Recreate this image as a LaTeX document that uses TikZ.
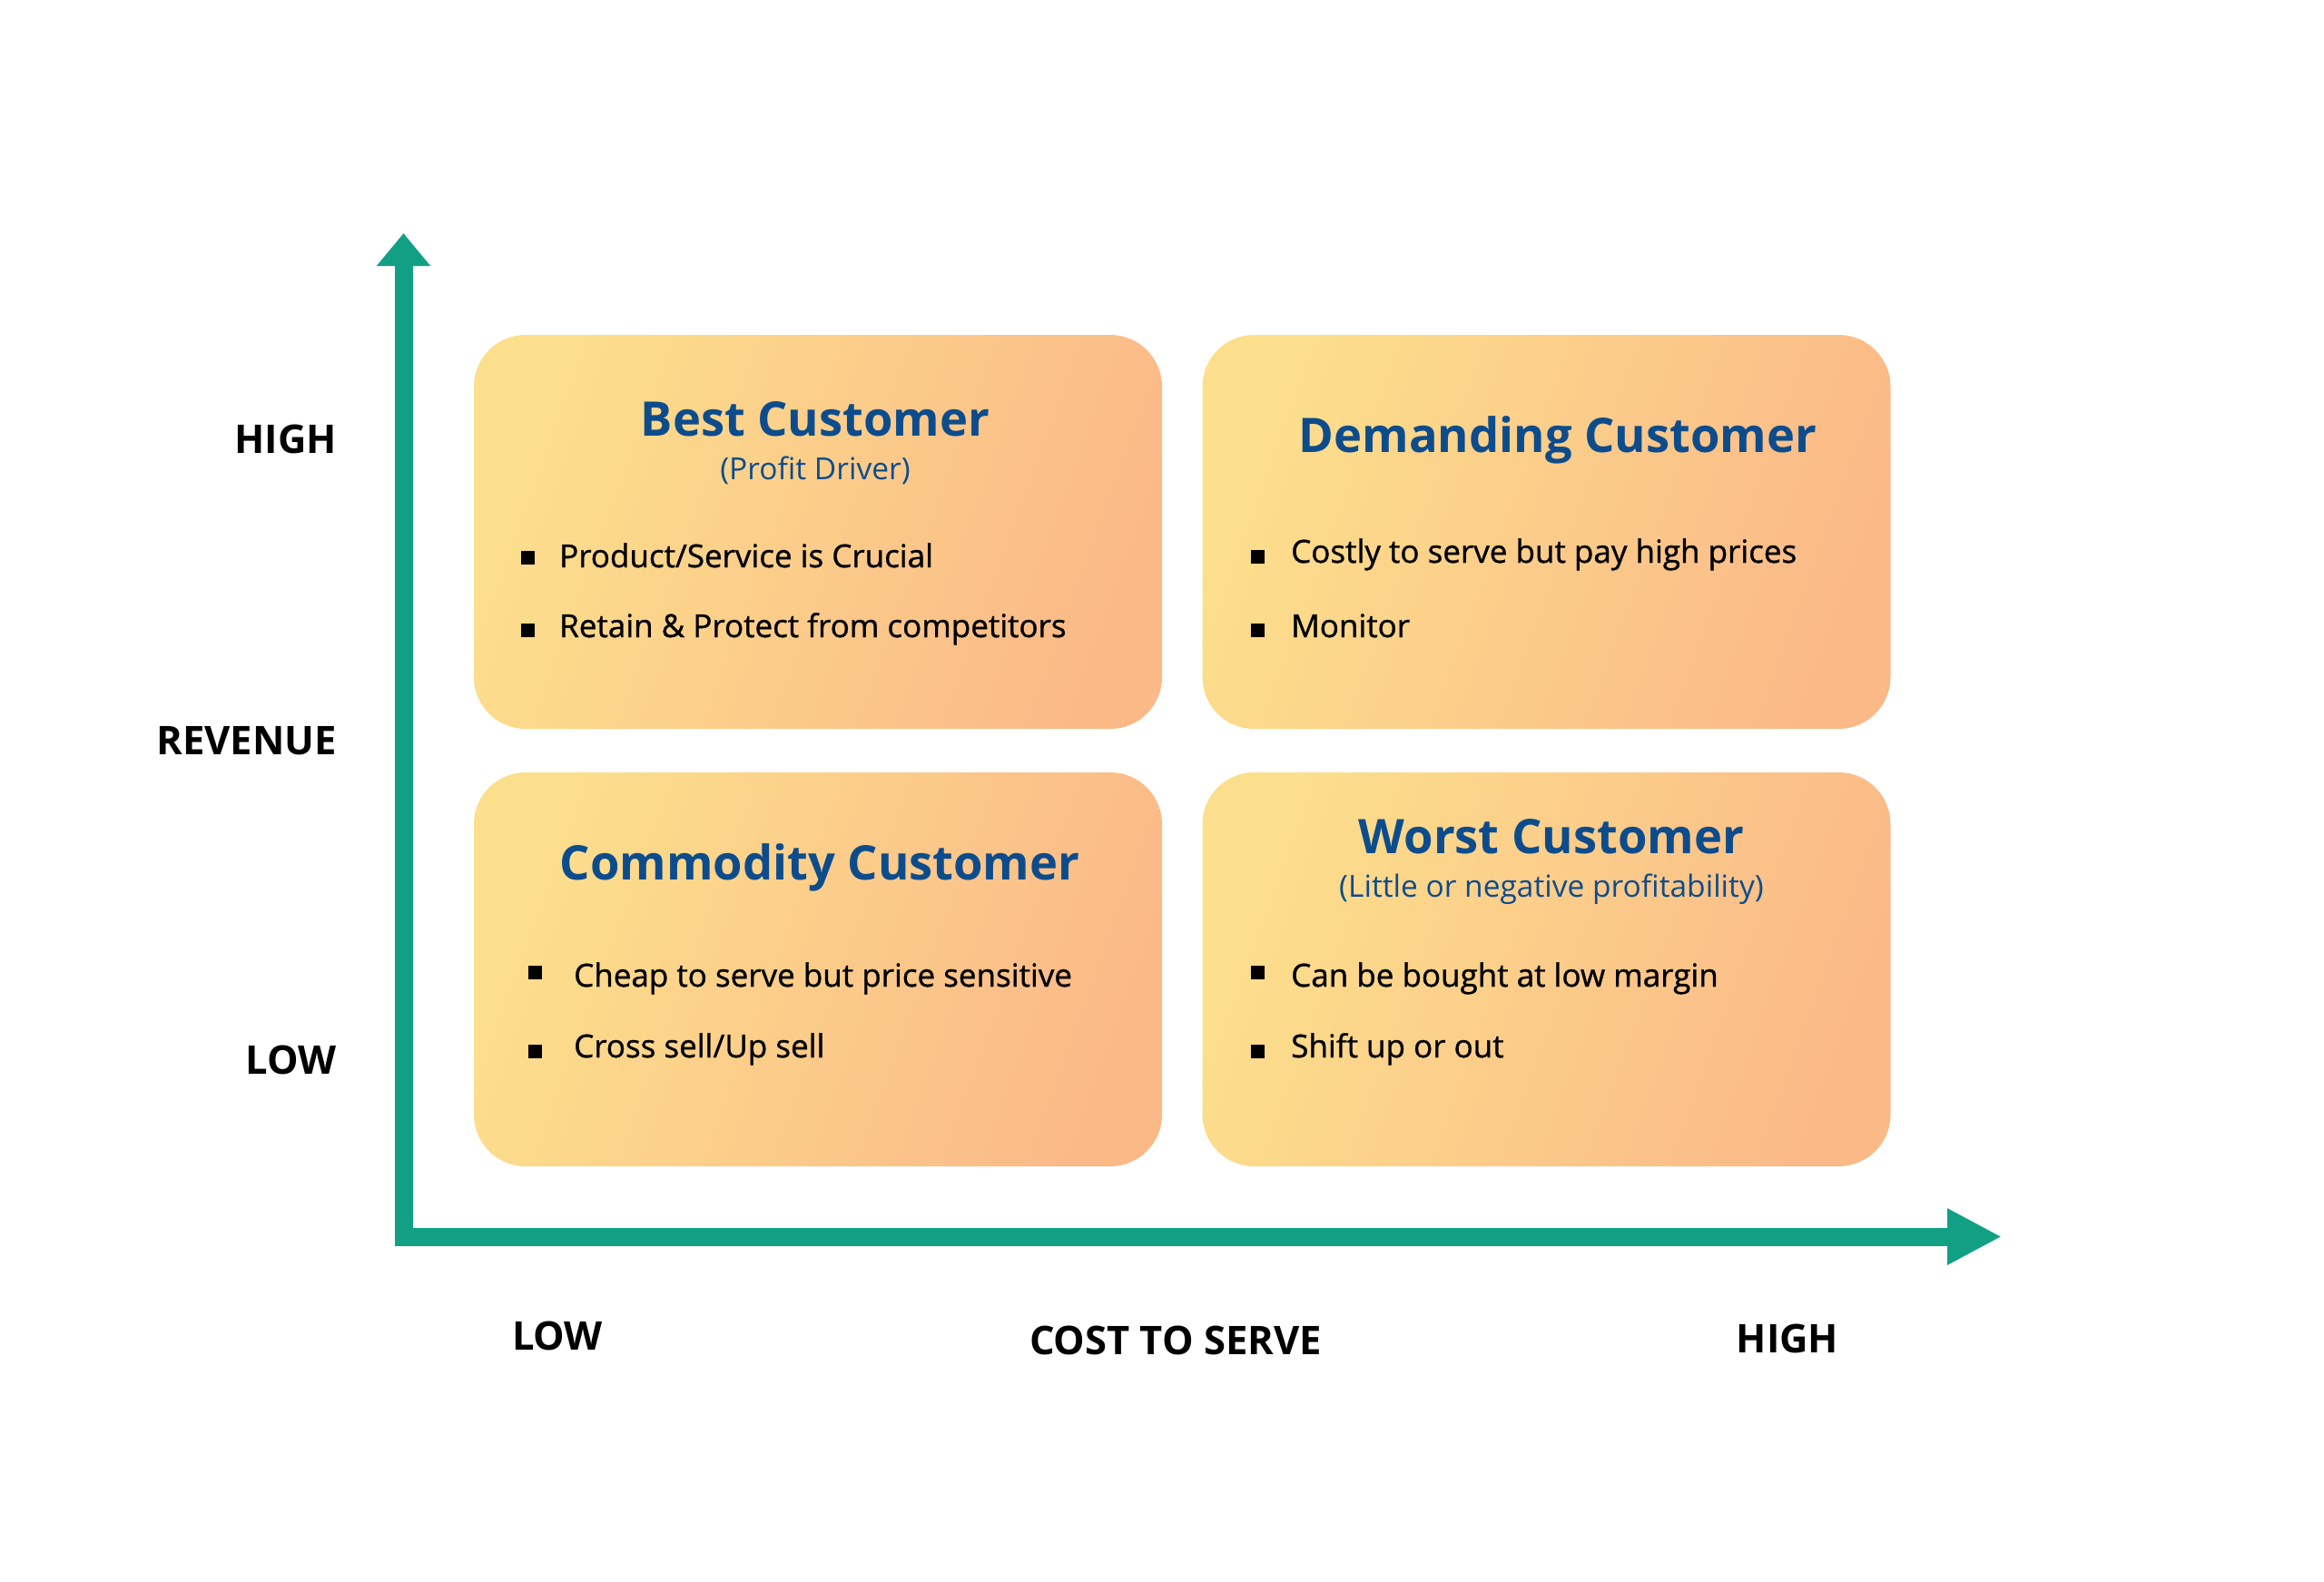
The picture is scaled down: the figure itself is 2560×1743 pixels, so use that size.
\documentclass[tikz,border=0pt]{standalone}
\usepackage{fontspec}
\setmainfont{Open Sans}
\newfontfamily\semib{Open Sans}[FakeBold=1]
\usetikzlibrary{arrows.meta}
\definecolor{teal1}{HTML}{12A085}
\definecolor{navy1}{HTML}{0D4C8C}
\definecolor{ylw}{HTML}{FCDF8C}
\definecolor{midc}{HTML}{FBD68A}
\definecolor{orgc}{HTML}{FBB988}
\begin{document}
\begin{tikzpicture}[x=1pt,y=-1pt,
  quad/.style={rounded corners=57pt, minimum width=758pt, minimum height=434pt, inner sep=0pt,
    shading=axis, top color=ylw, middle color=midc, bottom color=orgc, shading angle=70},
  title/.style={anchor=base, inner sep=0pt, text=navy1, font=\bfseries\fontsize{52.5}{60}\selectfont},
  subtitle/.style={anchor=base, inner sep=0pt, text=navy1, font=\fontsize{33.5}{40}\selectfont},
  item/.style={anchor=base west, inner sep=0pt, text=black, font=\semib\fontsize{35}{42}\selectfont},
  sq/.style={fill=black, minimum size=15pt, inner sep=0pt},
  axlab/.style={inner sep=0pt, text=black, font=\bfseries\fontsize{43.5}{50}\selectfont}
]
\useasboundingbox[fill=white] (0,0) rectangle (2560,1743);

% quadrants
\node[quad] (qtl) at (901,586) {};
\node[quad] (qtr) at (1703.5,586) {};
\node[quad] (qbl) at (901,1068) {};
\node[quad] (qbr) at (1703.5,1068) {};

% axes
\coordinate (ytip) at (444.5,257);
\coordinate (orig) at (444.5,1362.5);
\coordinate (xtip) at (2205,1362.5);
\draw[teal1, line width=20pt, line join=miter,
  {Triangle[width=57pt,length=36pt]}-{Triangle[width=58pt,length=60pt]}]
  (ytip) -- (orig) -- (xtip);

% axis labels
\node[axlab, anchor=base east] (yhigh) at (371,499) {HIGH};
\node[axlab, anchor=base east] (yrev) at (371,831) {REVENUE};
\node[axlab, anchor=base east] (ylow) at (371,1183) {LOW};
\node[axlab, anchor=base] (xlow) at (614,1487) {LOW};
\node[axlab, anchor=base] (xcts) at (1295,1492) {COST TO SERVE};
\node[axlab, anchor=base] (xhigh) at (1969,1490) {HIGH};

% top-left
\node[title] (t1) at (898,480) {Best Customer};
\node[subtitle] (s1) at (898,528) {(Profit Driver)};
\node[sq] (b11) at (581,614) {};
\node[item] (i11) at (616,625) {Product/Service is Crucial};
\node[sq] (b12) at (581,694) {};
\node[item] (i12) at (616,702) {Retain \& Protect from competitors};

% top-right
\node[title] (t2) at (1716,498) {Demanding Customer};
\node[sq] (b21) at (1385,613) {};
\node[item] (i21) at (1422,620) {Costly to serve but pay high prices};
\node[sq] (b22) at (1385,694) {};
\node[item] (i22) at (1422,702) {Monitor};

% bottom-left
\node[title] (t3) at (903,969) {Commodity Customer};
\node[sq] (b31) at (589,1071) {};
\node[item] (i31) at (632,1087) {Cheap to serve but price sensitive};
\node[sq] (b32) at (589,1158) {};
\node[item] (i32) at (632,1165) {Cross sell/Up sell};

% bottom-right
\node[title] (t4) at (1709,940) {Worst Customer};
\node[subtitle] (s4) at (1709,988) {(Little or negative profitability)};
\node[sq] (b41) at (1385,1071) {};
\node[item] (i41) at (1422,1087) {Can be bought at low margin};
\node[sq] (b42) at (1385,1158) {};
\node[item] (i42) at (1422,1165) {Shift up or out};
\end{tikzpicture}
\end{document}
